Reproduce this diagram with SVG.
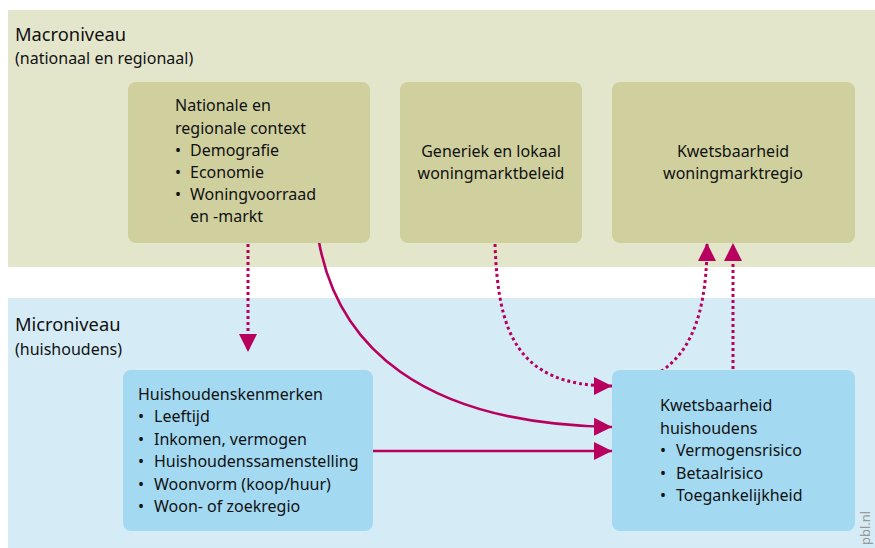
<svg xmlns="http://www.w3.org/2000/svg" width="875" height="548" viewBox="0 0 875 548">
<defs>
<style>
text{font-family:"Noto Sans","Open Sans",sans-serif;fill:#111111;font-size:16px}
.title{font-size:18.3px}
.sub{font-size:16px}
.olive{fill:#cfd09e}
.blue{fill:#a3d9f1}
.c{fill:none;stroke:#b8005f;stroke-width:2.6}
.d{fill:none;stroke:#b8005f;stroke-width:3;stroke-dasharray:3 3}
.mid{text-anchor:middle}
</style>
<marker id="ah" viewBox="0 0 10 10" refX="10" refY="5" markerWidth="18" markerHeight="20" markerUnits="userSpaceOnUse" orient="auto">
<path d="M0,0 L10,5 L0,10 Z" fill="#b8005f"/>
</marker>
</defs>
<rect x="0" y="0" width="875" height="548" fill="#ffffff"/>
<rect x="8" y="10" width="867" height="257" fill="#e4e6cc"/>
<rect x="8" y="298" width="867" height="250" fill="#d5ecf7"/>
<text class="title" x="15" y="41">Macroniveau</text>
<text class="sub" x="15" y="64">(nationaal en regionaal)</text>
<text class="title" x="15" y="331">Microniveau</text>
<text class="sub" x="15" y="355">(huishoudens)</text>
<text x="870" y="545" transform="rotate(-90 870 545)" style="font-size:13px;fill:#9a9a9a">pbl.nl</text>

<g id="connectors">
<path class="d" d="M248,244 L248,352" marker-end="url(#ah)"/>
<path class="c" d="M319,242 C338,345 420,424 612,427" marker-end="url(#ah)"/>
<path class="c" d="M373,451 L612,451" marker-end="url(#ah)"/>
<path class="d" d="M495,244 C498,330 515,386 612,386" marker-end="url(#ah)"/>
<path class="d" d="M622,386 C682,376 707,330 707,243" marker-end="url(#ah)"/>
<path class="d" d="M733,369 L733,243" marker-end="url(#ah)"/>
</g>

<g id="n1">
<rect class="olive" x="128" y="82" width="242" height="161" rx="8"/>
<text x="175" y="111">Nationale en</text>
<text x="175" y="134">regionale context</text>
<text x="175" y="156">•</text><text x="190" y="156">Demografie</text>
<text x="175" y="178">•</text><text x="190" y="178">Economie</text>
<text x="175" y="200">•</text><text x="190" y="200">Woningvoorraad</text>
<text x="190" y="222">en -markt</text>
</g>
<g id="n2">
<rect class="olive" x="400" y="82" width="182" height="161" rx="8"/>
<text class="mid" x="491" y="157">Generiek en lokaal</text>
<text class="mid" x="491" y="179">woningmarktbeleid</text>
</g>
<g id="n3">
<rect class="olive" x="612" y="82" width="243" height="161" rx="8"/>
<text class="mid" x="733" y="157">Kwetsbaarheid</text>
<text class="mid" x="733" y="179">woningmarktregio</text>
</g>
<g id="n4">
<rect class="blue" x="123" y="370" width="250" height="161" rx="8"/>
<text x="138" y="400">Huishoudenskenmerken</text>
<text x="138" y="422">•</text><text x="154" y="422">Leeftijd</text>
<text x="138" y="445">•</text><text x="154" y="445">Inkomen, vermogen</text>
<text x="138" y="467">•</text><text x="154" y="467">Huishoudenssamenstelling</text>
<text x="138" y="490">•</text><text x="154" y="490">Woonvorm (koop/huur)</text>
<text x="138" y="512">•</text><text x="154" y="512">Woon- of zoekregio</text>
</g>
<g id="n5">
<rect class="blue" x="612" y="370" width="243" height="161" rx="8"/>
<text x="660" y="411">Kwetsbaarheid</text>
<text x="660" y="434">huishoudens</text>
<text x="660" y="456">•</text><text x="676" y="456">Vermogensrisico</text>
<text x="660" y="479">•</text><text x="676" y="479">Betaalrisico</text>
<text x="660" y="501">•</text><text x="676" y="501">Toegankelijkheid</text>
</g>
</svg>
